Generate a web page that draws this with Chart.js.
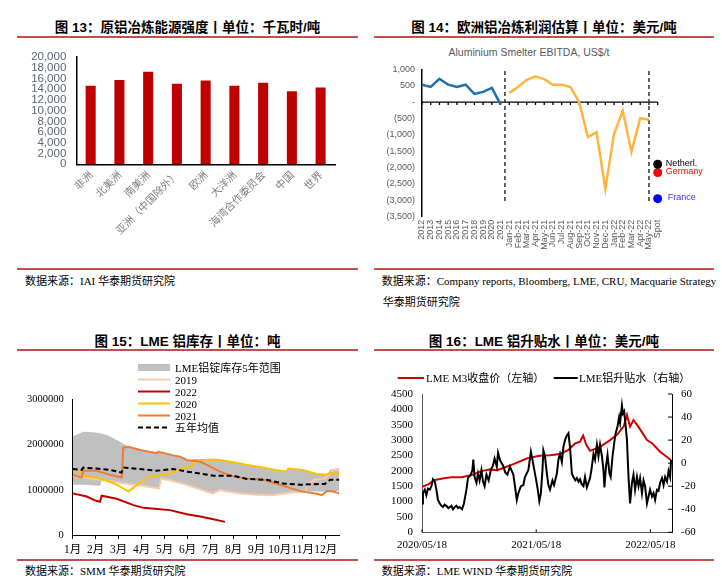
<!DOCTYPE html>
<html>
<head>
<meta charset="utf-8">
<script src="https://cdn.jsdelivr.net/npm/chart.js@4.4.0/dist/chart.umd.min.js"></script>
<style>
body { margin: 0; width: 722px; height: 587px; position: relative; overflow: hidden; background: #fff;
  font-family: "Liberation Serif", "Noto Sans CJK SC", serif; }
canvas { position: absolute; }
.title { position: absolute; font-family: "Liberation Sans", "Noto Sans CJK SC", sans-serif; font-weight: bold;
  font-size: 13.5px; line-height: 16px; text-align: center; white-space: nowrap; color: #000; }
.rule { position: absolute; height: 2px; background: #C0504D; }
.src { position: absolute; font-size: 11px; line-height: 14px; white-space: nowrap; color: #000; }
.sub { position: absolute; font-family: "Liberation Sans", Arial, sans-serif; font-size: 10.5px; line-height: 14px;
  color: #595959; text-align: center; white-space: nowrap; }
.leg { position: absolute; font-size: 11px; line-height: 12px; white-space: nowrap; color: #000; }
svg { position: absolute; }
</style>
</head>
<body>

<div class="title" style="left:17px;width:341px;top:20px">图 13：原铝冶炼能源强度丨单位：千瓦时/吨</div>
<div class="rule" style="left:17px;width:341px;top:35.5px"></div>
<div class="rule" style="left:17px;width:341px;top:268.3px"></div>
<div class="src" style="left:25px;top:274px">数据来源：IAI 华泰期货研究院</div>

<div class="title" style="left:374px;width:340px;top:20px">图 14：欧洲铝冶炼利润估算丨单位：美元/吨</div>
<div class="rule" style="left:374px;width:340px;top:35.5px"></div>
<div class="rule" style="left:374px;width:340px;top:268.3px"></div>
<div class="sub" style="left:429px;width:200px;top:44.5px">Aluminium Smelter EBITDA, US$/t</div>
<div class="src" style="left:381.7px;top:274px">数据来源：Company reports, Bloomberg, LME, CRU, Macquarie Strategy</div>
<div class="src" style="left:382.7px;top:294.7px">华泰期货研究院</div>

<div class="title" style="left:17px;width:341px;top:333.7px">图 15：LME 铝库存丨单位：吨</div>
<div class="rule" style="left:17px;width:341px;top:349px"></div>
<div class="rule" style="left:17px;width:341px;top:559px"></div>
<div class="src" style="left:25px;top:564px">数据来源：SMM 华泰期货研究院</div>

<div class="title" style="left:374px;width:340px;top:333.7px">图 16：LME 铝升贴水丨单位：美元/吨</div>
<div class="rule" style="left:374px;width:340px;top:349px"></div>
<div class="rule" style="left:374px;width:340px;top:559px"></div>
<div class="src" style="left:381.7px;top:564px">数据来源：LME WIND 华泰期货研究院</div>

<canvas id="energy" width="361" height="225" style="left:0;top:40px"></canvas>
<canvas id="ebitda" width="361" height="225" style="left:361px;top:40px"></canvas>
<canvas id="stocks" width="361" height="205" style="left:0;top:355px"></canvas>
<canvas id="premium" width="361" height="205" style="left:361px;top:355px"></canvas>

<!-- legend, fig 15 -->
<svg width="34" height="72" style="left:138px;top:361px">
  <rect x="0" y="3" width="32" height="7" fill="#C0C0C0"/>
  <line x1="0" y1="18.5" x2="32" y2="18.5" stroke="#F8CBAD" stroke-width="2"/>
  <line x1="0" y1="30.5" x2="32" y2="30.5" stroke="#C00000" stroke-width="2"/>
  <line x1="0" y1="42.5" x2="32" y2="42.5" stroke="#FFC000" stroke-width="2"/>
  <line x1="0" y1="54.5" x2="32" y2="54.5" stroke="#ED7D31" stroke-width="2"/>
  <line x1="0" y1="66.5" x2="32" y2="66.5" stroke="#000" stroke-width="2" stroke-dasharray="5,3"/>
</svg>
<div class="leg" style="left:175px;top:361.5px">LME铝锭库存5年范围</div>
<div class="leg" style="left:175px;top:373.5px">2019</div>
<div class="leg" style="left:175px;top:385.5px">2022</div>
<div class="leg" style="left:175px;top:397.5px">2020</div>
<div class="leg" style="left:175px;top:409.5px">2021</div>
<div class="leg" style="left:175px;top:421.5px">五年均值</div>

<!-- legend, fig 16 -->
<svg width="200" height="6" style="left:397px;top:374.7px">
  <line x1="0.7" y1="3" x2="27" y2="3" stroke="#D00000" stroke-width="2"/>
  <line x1="156.7" y1="3" x2="180.7" y2="3" stroke="#000" stroke-width="2"/>
</svg>
<div class="leg" style="left:426px;top:371.7px">LME M3收盘价（左轴）</div>
<div class="leg" style="left:579px;top:371.7px">LME铝升贴水（右轴）</div>

<script>
Chart.defaults.font.family = '"Liberation Sans", Arial, sans-serif';
Chart.defaults.animation = false;
Chart.defaults.plugins.legend.display = false;
Chart.defaults.plugins.tooltip.enabled = false;
const SERIF = '"Liberation Serif", "Noto Sans CJK SC", serif';

// Fig 13: energy intensity, kWh/t
const regions = ['非洲', '北美洲', '南美洲', '亚洲（中国除外）', '欧洲', '大洋洲', '海湾合作委员会', '中国', '世界'];
const energyIntensity = [14650, 15700, 17250, 15000, 15600, 14650, 15200, 13600, 14300];

// Fig 14: smelter EBITDA, US$/t
const ebitdaLabels = ['2012', '2013', '2014', '2015', '2016', '2017', '2018', '2019', '2020', '2021',
  'Jan-21', 'Feb-21', 'Mar-21', 'Apr-21', 'May-21', 'Jun-21', 'Jul-21', 'Aug-21', 'Sep-21', 'Oct-21',
  'Nov-21', 'Dec-21', 'Jan-22', 'Feb-22', 'Mar-22', 'Apr-22', 'May-22', 'Spot'];
const annualEbitda = [530, 460, 710, 530, 460, 530, 250, 310, 430, -70];
const monthlyEbitda = [280, 460, 680, 780, 700, 530, 530, 460, 0, -1070, -920, -2650, -970, -270, -1520, -490, -540];
const spotNames = ['Netherl.', 'Germany', 'France'];
const spotValues = [-1900, -2150, -2950];
const dividerAt = [9.5, 26];

// Fig 15: LME aluminium stocks, t  ([month since Jan 1, tonnes])
const stockRange = [[0, 1110000, 2180000], [0.46, 1110000, 2280000], [0.9, 1100000, 2270000], [1.2, 1090000, 2250000],
  [1.26, 1210000, 2240000], [1.48, 1200000, 2210000], [1.77, 1180000, 2140000], [2.0, 1160000, 2080000],
  [2.2, 1140000, 2020000], [2.42, 1130000, 1950000], [2.93, 1090000, 1880000], [3.5, 1050000, 1820000],
  [3.72, 1030000, 1840000], [3.75, 1030000, 1840000], [3.85, 1250000, 1830000], [4.38, 1190000, 1760000],
  [4.96, 1120000, 1660000], [5.25, 1070000, 1660000], [5.6, 1010000, 1660000], [6.1, 920000, 1670000],
  [6.4, 1000000, 1660000], [6.7, 960000, 1630000], [7.3, 920000, 1580000], [8.0, 890000, 1520000],
  [8.7, 880000, 1450000], [9.3, 910000, 1400000], [9.37, 920000, 1470000], [10.0, 960000, 1440000],
  [10.24, 960000, 1420000], [10.6, 960000, 1350000], [11.04, 960000, 1330000], [11.2, 970000, 1450000],
  [11.59, 970000, 1480000]];
const stock2019 = [[0, 1300000], [0.5, 1270000], [1, 1230000], [1.5, 1200000], [2, 1160000], [2.5, 1120000],
  [3, 1090000], [3.5, 1050000], [3.75, 1030000], [3.85, 1250000], [4.3, 1200000], [4.8, 1130000], [5.4, 1030000],
  [6.1, 920000], [6.4, 1000000], [6.7, 960000], [7.3, 920000], [8, 890000], [8.7, 880000], [9.45, 940000],
  [10.1, 960000], [10.24, 1140000], [10.53, 1220000], [10.97, 1250000], [11.19, 1360000], [11.33, 1440000],
  [11.59, 1450000]];
const stock2020 = [[0, 1440000], [0.3, 1400000], [0.55, 1300000], [1, 1270000], [1.5, 1200000], [2, 1090000],
  [2.42, 960000], [2.6, 1030000], [2.9, 1150000], [3.36, 1290000], [3.8, 1330000], [4.23, 1360000], [4.6, 1430000],
  [4.96, 1510000], [5.2, 1530000], [5.25, 1660000], [5.6, 1660000], [6, 1670000], [6.4, 1660000], [7, 1610000],
  [7.6, 1550000], [8.2, 1500000], [8.7, 1450000], [9.3, 1400000], [9.37, 1470000], [10, 1440000], [10.6, 1350000],
  [11.04, 1330000], [11.2, 1370000], [11.59, 1350000]];
const stock2021 = [[0, 1330000], [0.39, 1270000], [0.46, 1420000], [1.04, 1420000], [1.62, 1330000], [2.13, 1270000],
  [2.2, 1930000], [2.42, 1950000], [2.93, 1880000], [3.65, 1810000], [3.72, 1840000], [4.38, 1760000], [4.67, 1730000],
  [4.96, 1660000], [5.54, 1620000], [5.83, 1550000], [6.41, 1400000], [6.99, 1290000], [7.57, 1250000], [8.29, 1220000],
  [9.01, 1110000], [9.88, 970000], [10.6, 910000], [10.83, 880000], [11.04, 970000], [11.33, 960000], [11.59, 920000]];
const stock2022 = [[0, 920000], [0.61, 850000], [1.04, 750000], [1.19, 740000], [1.26, 870000], [1.91, 800000],
  [2.64, 660000], [3.07, 600000], [3.8, 570000], [4.23, 550000], [4.96, 460000], [5.54, 410000], [6.12, 350000],
  [6.62, 290000]];
const stockMean = [[0, 1460000], [0.39, 1440000], [0.46, 1490000], [1.04, 1470000], [1.62, 1440000], [2.13, 1380000],
  [2.2, 1490000], [2.93, 1460000], [3.65, 1420000], [4.38, 1460000], [4.96, 1400000], [5.54, 1360000], [6.12, 1310000],
  [6.99, 1310000], [7.57, 1240000], [8.43, 1220000], [9.16, 1140000], [9.88, 1110000], [10.25, 1120000],
  [10.97, 1130000], [11.19, 1220000], [11.59, 1220000]];
const monthTicks = [0, 1, 2, 3, 4, 5, 6, 7, 8, 9, 10, 11];
const monthLabels = ['1月', '2月', '3月', '4月', '5月', '6月', '7月', '8月', '9月', '10月', '11月', '12月'];

// Fig 16: LME 3M price (left) and cash-3M spread (right)  ([days since 2020/05/18, value])
const dateTicks = [0, 365, 730];
const dateLabels = ['2020/05/18', '2021/05/18', '2022/05/18'];
const m3Price = [[0, 1480], [20, 1560], [41, 1700], [70, 1760], [94, 1790], [126, 1790], [158, 1860], [190, 1990],
  [215, 2040], [240, 2020], [264, 2110], [292, 2220], [335, 2400], [356, 2450], [377, 2490], [409, 2510], [441, 2550],
  [468, 2680], [489, 2890], [505, 2950], [515, 3150], [525, 2850], [537, 2650], [569, 2780], [601, 3000], [623, 3170],
  [645, 3450], [655, 3820], [665, 3440], [676, 3650], [692, 3430], [719, 3000], [735, 2900], [761, 2620], [788, 2410],
  [795, 2360]];
const spread = [[0, -35], [3, -26], [9, -23], [14, -28], [19, -22], [25, -23], [30, -20], [35, -14], [41, -16], [46, -23],
  [51, -32], [57, -35], [62, -37], [67, -38], [72, -36], [78, -37], [84, -39], [89, -38], [94, -37], [99, -40], [105, -38],
  [110, -37], [115, -39], [120, -38], [128, -40], [134, -35], [142, -23], [147, -13], [156, -10], [161, -6], [164, 3],
  [168, -12], [174, -17], [179, -9], [184, -15], [190, -6], [195, -16], [200, -20], [206, -10], [213, -15], [220, -6],
  [227, -2], [232, 4], [239, -3], [243, 9], [250, 2], [259, -2], [266, -8], [273, -10], [281, -3], [292, -10], [297, -20],
  [303, -32], [308, -26], [316, -20], [324, -19], [329, -12], [340, -6], [348, 10], [353, 3], [359, -6], [365, -15],
  [370, -23], [375, -33], [380, -26], [385, -6], [388, 11], [393, 6], [399, -9], [404, -19], [409, -23], [417, -15],
  [422, -19], [431, -9], [436, 3], [441, 8], [447, 1], [452, 14], [457, 20], [463, 24], [468, 26], [473, 14], [479, -9],
  [484, -12], [490, -15], [495, -13], [500, -16], [505, -14], [510, -18], [516, -20], [521, -12], [527, -21], [532, -17],
  [537, -13], [543, -3], [548, 8], [553, 3], [559, 16], [564, 6], [569, 16], [575, 6], [580, -6], [583, -21], [588, -3],
  [593, 7], [599, -9], [603, -12], [609, 6], [614, 17], [619, 26], [625, 32], [630, 40], [633, 35], [639, 50], [642, 43],
  [646, 45], [651, 32], [655, 20], [660, -12], [665, -35], [671, -17], [676, -10], [681, -23], [687, -12], [692, -20],
  [697, -13], [703, -26], [708, -15], [713, -20], [719, -35], [724, -29], [729, -23], [735, -29], [740, -26], [745, -32],
  [751, -23], [756, -24], [761, -17], [767, -13], [772, -19], [777, -12], [783, -16], [788, -7], [793, -12], [796, 3]];

const toXY = rows => rows.map(r => ({ x: r[0], y: r[1] }));
const noGrid = { display: false, drawTicks: false };
const plain = v => String(v);

// Fig 13
new Chart(document.getElementById('energy'), {
  type: 'bar',
  data: {
    labels: regions,
    datasets: [{ data: energyIntensity, backgroundColor: '#C00000', barPercentage: 0.7, categoryPercentage: 0.5 }]
  },
  options: {
    responsive: false,
    layout: { padding: { top: 12, right: 26, left: 0, bottom: 0 } },
    scales: {
      x: {
        grid: noGrid,
        border: { color: '#000', width: 1.5 },
        ticks: { autoSkip: false, maxRotation: 45, minRotation: 45, padding: 4, color: '#7f7f7f',
          font: { family: '"Noto Sans CJK SC", sans-serif', size: 10.5 } },
        afterFit: s => { s.height = 100.7; }
      },
      y: {
        min: 0, max: 20000,
        grid: noGrid,
        border: { color: '#000', width: 1.5 },
        ticks: { stepSize: 2000, autoSkip: false, padding: 10, color: '#5b6577', font: { size: 11.5 },
          callback: v => v.toLocaleString('en-US') },
        afterFit: s => { s.width = 76.3; }
      }
    }
  }
});

// Fig 14
const spotColors = ['#000000', '#FF0000', '#0000FF'];
const ebitdaExtras = {
  id: 'ebitdaExtras',
  beforeDatasetsDraw(chart) {
    const { ctx, scales: { x, y } } = chart;
    const y0 = y.getPixelForValue(0);
    ctx.save();
    ctx.strokeStyle = '#000';
    ctx.lineWidth = 1.3;
    ctx.beginPath();
    ctx.moveTo(x.left, y0);
    ctx.lineTo(x.right, y0);
    ebitdaLabels.forEach((l, i) => {
      const px = x.getPixelForValue(i);
      ctx.moveTo(px, y0);
      ctx.lineTo(px, y0 + 3);
    });
    ctx.stroke();
    ctx.setLineDash([4, 3]);
    ctx.lineWidth = 1.5;
    ctx.strokeStyle = '#333';
    dividerAt.forEach(d => {
      const px = x.getPixelForValue(d);
      ctx.beginPath();
      ctx.moveTo(px, y.getPixelForValue(950));
      ctx.lineTo(px, y.getPixelForValue(-3100));
      ctx.stroke();
    });
    ctx.restore();
  },
  afterDatasetsDraw(chart) {
    const ctx = chart.ctx;
    ctx.save();
    ctx.font = '9px "Liberation Sans", Arial, sans-serif';
    ctx.textBaseline = 'middle';
    spotNames.forEach((name, i) => {
      const pt = chart.getDatasetMeta(2 + i).data[ebitdaLabels.length - 1];
      ctx.fillStyle = i === 2 ? '#3333FF' : spotColors[i];
      ctx.fillText(name, pt.x + (i === 2 ? 10 : 8), pt.y - 1);
    });
    ctx.restore();
  }
};

const blanks = n => Array(n).fill(null);
new Chart(document.getElementById('ebitda'), {
  type: 'line',
  data: {
    labels: ebitdaLabels,
    datasets: [
      { data: [...annualEbitda, ...blanks(monthlyEbitda.length + 1)], borderColor: '#1F6FAF', borderWidth: 2.5, pointRadius: 0 },
      { data: [...blanks(annualEbitda.length), ...monthlyEbitda, null], borderColor: '#FFB43F', borderWidth: 2.5, pointRadius: 0 },
      ...spotValues.map((v, i) => ({
        data: [...blanks(ebitdaLabels.length - 1), v], showLine: false,
        pointRadius: 4.5, pointBackgroundColor: spotColors[i], pointBorderWidth: 0
      }))
    ]
  },
  options: {
    responsive: false,
    layout: { padding: { top: 29.3, right: 64.3, left: 0, bottom: 0 } },
    scales: {
      x: {
        grid: noGrid,
        border: { display: false },
        ticks: { autoSkip: false, maxRotation: 90, minRotation: 90, padding: 3, color: '#595959', font: { size: 9 } },
        afterFit: s => { s.height = 48.3; }
      },
      y: {
        min: -3500, max: 1000,
        grid: noGrid,
        border: { color: '#000', width: 1.5 },
        ticks: {
          stepSize: 500, autoSkip: false, padding: 7, color: '#595959', font: { size: 9 },
          callback: v => v === 0 ? '-' : (v < 0 ? '(' + Math.abs(v).toLocaleString('en-US') + ')' : v.toLocaleString('en-US'))
        },
        afterFit: s => { s.width = 61; }
      }
    }
  },
  plugins: [ebitdaExtras]
});

// Fig 15
new Chart(document.getElementById('stocks'), {
  type: 'line',
  data: {
    datasets: [
      { data: toXY(stockMean), borderColor: '#000', borderWidth: 2, borderDash: [5, 3], pointRadius: 0 },
      { data: toXY(stock2021), borderColor: '#ED7D31', borderWidth: 2, pointRadius: 0 },
      { data: toXY(stock2020), borderColor: '#FFC000', borderWidth: 2, pointRadius: 0 },
      { data: toXY(stock2022), borderColor: '#C00000', borderWidth: 2, pointRadius: 0 },
      { data: toXY(stock2019), borderColor: '#F8CBAD', borderWidth: 2, pointRadius: 0 },
      { data: stockRange.map(r => ({ x: r[0], y: r[2] })), borderWidth: 0, pointRadius: 0,
        backgroundColor: '#C0C0C0', fill: { target: 6 } },
      { data: stockRange.map(r => ({ x: r[0], y: r[1] })), borderWidth: 0, pointRadius: 0, fill: false }
    ]
  },
  options: {
    responsive: false,
    layout: { padding: { top: 44.3, right: 21.7, left: 0, bottom: 0 } },
    scales: {
      x: {
        type: 'linear', min: 0, max: 11.59,
        grid: { display: true, drawOnChartArea: false, drawTicks: true, tickLength: 4, color: '#000' },
        border: { color: '#000', width: 1 },
        afterBuildTicks: s => { s.ticks = monthTicks.map(v => ({ value: v })); },
        ticks: { autoSkip: false, maxRotation: 0, minRotation: 0, padding: 4, color: '#000',
          font: { family: SERIF, size: 11.5 }, callback: (v, i) => monthLabels[i] },
        afterFit: s => { s.height = 25; }
      },
      y: {
        min: 0, max: 3000000,
        grid: noGrid,
        border: { color: '#000', width: 1 },
        ticks: { stepSize: 1000000, autoSkip: false, padding: 9, color: '#000',
          font: { family: SERIF, size: 10.5 }, callback: plain },
        afterFit: s => { s.width = 72.7; }
      }
    }
  }
});

// Fig 16
const innerTicks = {
  id: 'innerTicks',
  afterDraw(chart) {
    const { ctx, scales: { x, y2 } } = chart;
    ctx.save();
    ctx.strokeStyle = '#000';
    ctx.lineWidth = 1;
    ctx.beginPath();
    y2.ticks.forEach(t => {
      const py = y2.getPixelForValue(t.value);
      ctx.moveTo(y2.left, py);
      ctx.lineTo(y2.left - 4, py);
    });
    x.ticks.forEach(t => {
      const px = x.getPixelForValue(t.value);
      ctx.moveTo(px, x.top);
      ctx.lineTo(px, x.top - 3);
    });
    ctx.stroke();
    ctx.restore();
  }
};

new Chart(document.getElementById('premium'), {
  type: 'line',
  data: {
    datasets: [
      { data: toXY(spread), yAxisID: 'y2', borderColor: '#000', borderWidth: 2, pointRadius: 0 },
      { data: toXY(m3Price), yAxisID: 'y', borderColor: '#D00000', borderWidth: 2, pointRadius: 0 }
    ]
  },
  options: {
    responsive: false,
    layout: { padding: { top: 39, right: 0, left: 0, bottom: 0 } },
    scales: {
      x: {
        type: 'linear', min: 0, max: 799,
        grid: noGrid,
        border: { color: '#595959', width: 1 },
        afterBuildTicks: s => { s.ticks = dateTicks.map(v => ({ value: v })); },
        ticks: { autoSkip: false, maxRotation: 0, minRotation: 0, padding: 6, color: '#000',
          font: { family: SERIF, size: 11 }, callback: (v, i) => dateLabels[i] },
        afterFit: s => { s.height = 27.7; }
      },
      y: {
        position: 'left', min: 0, max: 4500,
        grid: noGrid,
        border: { color: '#595959', width: 1 },
        ticks: { stepSize: 500, autoSkip: false, padding: 9, color: '#000',
          font: { family: SERIF, size: 11 }, callback: plain },
        afterFit: s => { s.width = 61; }
      },
      y2: {
        position: 'right', min: -60, max: 60,
        grid: noGrid,
        border: { color: '#000', width: 1 },
        ticks: { stepSize: 20, autoSkip: false, padding: 9, color: '#000',
          font: { family: SERIF, size: 11 }, callback: plain },
        afterFit: s => { s.width = 50; }
      }
    }
  },
  plugins: [innerTicks]
});
</script>
</body>
</html>
